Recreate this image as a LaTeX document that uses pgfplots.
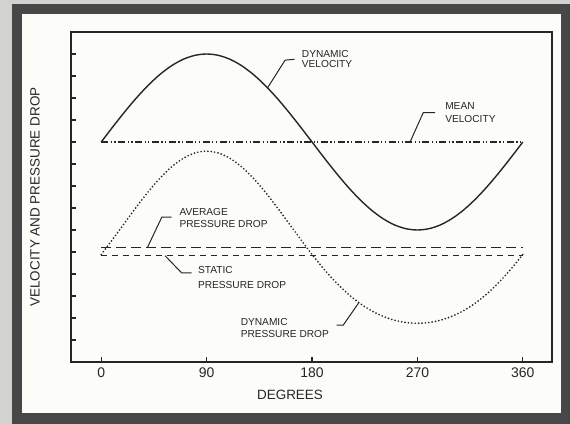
\documentclass[border=0pt]{standalone}
\usepackage{fontspec}
\setmainfont{Liberation Sans}
\usepackage{pgfplots}
\pgfplotsset{compat=1.18}

\definecolor{ink}{HTML}{262626}
\definecolor{framegray}{HTML}{474747}
\definecolor{paper}{HTML}{FCFCF9}
\definecolor{edge}{HTML}{D2D2CE}

\newcommand{\lbl}{\fontsize{10.2}{12}\selectfont}
\newcommand{\axlbl}{\fontsize{13.5}{15}\selectfont}

\begin{document}
\begin{tikzpicture}
% mount and dark border around the figure
\fill[edge] (-71bp,-62bp) rectangle (499bp,362bp);
\fill[framegray] (-59bp,-62bp) rectangle (499bp,358bp);
\fill[paper] (-49bp,-51bp) rectangle (490bp,348bp);
\useasboundingbox (-71bp,-62bp) rectangle (499bp,362bp);

\begin{axis}[
  at={(0,0)}, anchor=south west,
  scale only axis, width=481bp, height=330bp,
  xmin=-25.8, xmax=384.9, ymin=0, ymax=15,
  xtick={0,90,180,270,360}, xticklabels={0,90,180,270,360},
  ytick={1,2,...,14}, yticklabels={},
  tick pos=left, tick align=inside, major tick length=5bp,
  axis line style={ink, line width=1.1pt},
  tick style={ink, line width=1.1pt},
  xticklabel style={font=\fontsize{14}{16}\selectfont, text=ink, yshift=-2bp},
  clip=false,
]
% dynamic velocity
\addplot[ink, line width=1.4bp, smooth] coordinates {
 (0,10) (10,10.695) (20,11.368) (30,12) (40,12.571) (50,13.064) (60,13.464)
 (70,13.759) (80,13.939) (90,14) (100,13.939) (110,13.759) (120,13.464)
 (130,13.064) (140,12.571) (150,12) (160,11.368) (170,10.695) (180,10)
 (190,9.305) (200,8.632) (210,8) (220,7.429) (230,6.936) (240,6.536)
 (250,6.241) (260,6.061) (270,6) (280,6.061) (290,6.241) (300,6.536)
 (310,6.936) (320,7.429) (330,8) (340,8.632) (350,9.305) (360,10)
};
% dynamic pressure drop
\addplot[ink, line width=1.9bp, line cap=round, dash pattern=on 0bp off 3.4bp, smooth] coordinates {
 (0,4.890) (10,5.593) (20,6.320) (30,7.042) (40,7.728) (50,8.346) (60,8.865)
 (70,9.257) (80,9.501) (90,9.584) (100,9.501) (110,9.257) (120,8.865)
 (130,8.346) (140,7.728) (150,7.042) (160,6.320) (170,5.593) (180,4.890)
 (190,4.234) (200,3.644) (210,3.130) (220,2.699) (230,2.352) (240,2.089)
 (250,1.905) (260,1.796) (270,1.760) (280,1.796) (290,1.905) (300,2.089)
 (310,2.352) (320,2.699) (330,3.130) (340,3.644) (350,4.234) (360,4.890)
};
% mean velocity
\addplot[ink, line width=1.1bp, dash pattern=on 7bp off 2.5bp on 1.2bp off 2.5bp on 1.2bp off 2.5bp]
 coordinates {(0,10) (360,10)};
% average pressure drop
\addplot[ink, line width=1.3bp, dash pattern=on 10bp off 5bp]
 coordinates {(0,5.2) (360,5.2)};
% static pressure drop
\addplot[ink, line width=1.3bp, dash pattern=on 6bp off 5bp]
 coordinates {(0,4.83) (360,4.83)};

% callouts
\draw[ink, line width=1bp] (axis cs:142,12.46) -- (axis cs:157,13.72) -- (axis cs:165,13.76);
\node[anchor=west, inner sep=0, font=\lbl, text=ink] at (axis cs:171.2,14.01) {DYNAMIC};
\node[anchor=west, inner sep=0, font=\lbl, text=ink] at (axis cs:171.2,13.53) {VELOCITY};

\draw[ink, line width=1bp] (axis cs:263.7,10) -- (axis cs:275,11.34) -- (axis cs:285,11.34);
\node[anchor=west, inner sep=0, font=\lbl, text=ink] at (axis cs:293.6,11.64) {MEAN};
\node[anchor=west, inner sep=0, font=\lbl, text=ink] at (axis cs:293.6,11.04) {VELOCITY};

\draw[ink, line width=1bp] (axis cs:39.4,5.2) -- (axis cs:51.7,6.58) -- (axis cs:60.2,6.58);
\node[anchor=west, inner sep=0, font=\lbl, text=ink] at (axis cs:66.7,6.81) {AVERAGE};
\node[anchor=west, inner sep=0, font=\lbl, text=ink] at (axis cs:66.7,6.25) {PRESSURE DROP};

\draw[ink, line width=1bp] (axis cs:54.5,4.83) -- (axis cs:68.7,4.05) -- (axis cs:77.3,4.05);
\node[anchor=west, inner sep=0, font=\lbl, text=ink] at (axis cs:82.5,4.17) {STATIC};
\node[anchor=west, inner sep=0, font=\lbl, text=ink] at (axis cs:82.5,3.52) {PRESSURE DROP};

\draw[ink, line width=1bp] (axis cs:201.1,1.68) -- (axis cs:206.7,1.68) -- (axis cs:220,2.70);
\node[anchor=west, inner sep=0, font=\lbl, text=ink] at (axis cs:119,1.83) {DYNAMIC};
\node[anchor=west, inner sep=0, font=\lbl, text=ink] at (axis cs:119,1.26) {PRESSURE DROP};
\end{axis}

\node[font=\axlbl, text=ink] at (219bp,-33bp) {DEGREES};
\node[font=\axlbl, text=ink, rotate=90] at (-36bp,165bp) {VELOCITY AND PRESSURE DROP};
\end{tikzpicture}
\end{document}
